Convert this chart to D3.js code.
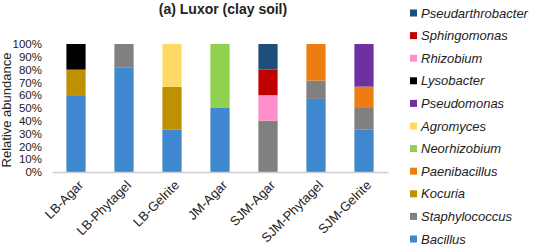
<!DOCTYPE html>
<html lang="en">
<head>
<meta charset="utf-8">
<title>Luxor (clay soil)</title>
<script src="https://d3js.org/d3.v7.min.js"></script>
<style>
  body { margin: 0; background: #fff; }
  svg text { font-family: "Liberation Sans", Arial, sans-serif; fill: #222; }
  .legend text { font-size: 13px; font-style: italic; }
</style>
</head>
<body>
<div id="chart"></div>
<script>
// samples along the x axis
var samples = ["LB-Agar", "LB-Phytagel", "LB-Gelrite", "JM-Agar", "SJM-Agar", "SJM-Phytagel", "SJM-Gelrite"];

// genera, bottom of the stack first
var genera = ["Bacillus", "Staphylococcus", "Kocuria", "Paenibacillus", "Neorhizobium",
              "Agromyces", "Pseudomonas", "Lysobacter", "Rhizobium", "Sphingomonas", "Pseudarthrobacter"];

var colors = ["#3f88d0", "#808080", "#bf9000", "#ed7d10", "#92d050",
              "#ffd966", "#7030a0", "#000000", "#ff8fcb", "#c00000", "#1f4e79"];

// relative abundance (%) per genus, one value per sample
var Bacillus          = [60, 81.8, 33.3, 50, 0, 57.1, 33.3];
var Staphylococcus    = [0, 18.2, 0, 0, 40, 14.3, 16.7];
var Kocuria           = [20, 0, 33.3, 0, 0, 0, 0];
var Paenibacillus     = [0, 0, 0, 0, 0, 28.6, 16.7];
var Neorhizobium      = [0, 0, 0, 50, 0, 0, 0];
var Agromyces         = [0, 0, 33.4, 0, 0, 0, 0];
var Pseudomonas       = [0, 0, 0, 0, 0, 0, 33.3];
var Lysobacter        = [20, 0, 0, 0, 0, 0, 0];
var Rhizobium         = [0, 0, 0, 0, 20, 0, 0];
var Sphingomonas      = [0, 0, 0, 0, 20, 0, 0];
var Pseudarthrobacter = [0, 0, 0, 0, 20, 0, 0];

var yTicks = [0, 10, 20, 30, 40, 50, 60, 70, 80, 90, 100];

var series = [Bacillus, Staphylococcus, Kocuria, Paenibacillus, Neorhizobium,
              Agromyces, Pseudomonas, Lysobacter, Rhizobium, Sphingomonas, Pseudarthrobacter];

var rows = samples.map(function(s, i) {
  var r = { sample: s };
  genera.forEach(function(g, j) { r[g] = series[j][i]; });
  return r;
});

var width = 534, height = 250;
var plotLeft = 52, plotRight = 388, plotTop = 44, plotBottom = 172;

var svg = d3.select("#chart").append("svg")
  .attr("width", width)
  .attr("height", height);

var x = d3.scaleBand().domain(samples).range([plotLeft, plotRight]).paddingInner(0.6).paddingOuter(0.3);
var y = d3.scaleLinear().domain([0, 100]).range([plotBottom, plotTop]);
var color = d3.scaleOrdinal().domain(genera).range(colors);

var stack = d3.stack().keys(genera)(rows);

svg.append("g").selectAll("g")
  .data(stack)
  .enter().append("g")
  .attr("fill", function(d) { return color(d.key); })
  .selectAll("rect")
  .data(function(d) { return d; })
  .enter().append("rect")
  .attr("x", function(d) { return x(d.data.sample); })
  .attr("y", function(d) { return y(d[1]); })
  .attr("width", x.bandwidth())
  .attr("height", function(d) { return y(d[0]) - y(d[1]); });

// y axis (labels only, no line)
var yAxis = svg.append("g")
  .attr("transform", "translate(" + (plotLeft - 7) + ",0)")
  .call(d3.axisLeft(y).tickValues(yTicks).tickSize(0).tickFormat(function(d) { return d + "%"; }));
yAxis.select(".domain").remove();
yAxis.selectAll("text").attr("fill", "#222").style("font-size", "11.5px");

// x axis
var xAxis = svg.append("g")
  .attr("transform", "translate(0," + plotBottom + ")")
  .call(d3.axisBottom(x).tickSize(0));
xAxis.select(".domain").attr("stroke", "#d0d0d0").attr("stroke-width", 1.5);
xAxis.selectAll("text")
  .attr("text-anchor", "end")
  .attr("fill", "#222")
  .attr("dy", 0)
  .attr("y", 0)
  .style("font-size", "13px")
  .attr("transform", "translate(8,14) rotate(-45)");

// title
svg.append("text")
  .attr("x", 223)
  .attr("y", 14)
  .attr("text-anchor", "middle")
  .style("font-size", "14px")
  .style("font-weight", "bold")
  .text("(a) Luxor (clay soil)");

// y label
svg.append("text")
  .attr("transform", "translate(11,110) rotate(-90)")
  .attr("text-anchor", "middle")
  .style("font-size", "13px")
  .text("Relative abundance");

// legend, top entry is the last genus in the stack
var legend = svg.append("g").attr("class", "legend")
  .selectAll("g")
  .data(genera.slice().reverse())
  .enter().append("g")
  .attr("transform", function(d, i) { return "translate(410," + (12.5 + i * 22.6) + ")"; });

legend.append("rect")
  .attr("x", 0).attr("y", -3)
  .attr("width", 7).attr("height", 7)
  .attr("fill", function(d) { return color(d); });

legend.append("text")
  .attr("x", 11).attr("y", 5)
  .text(function(d) { return d; });
</script>
</body>
</html>
